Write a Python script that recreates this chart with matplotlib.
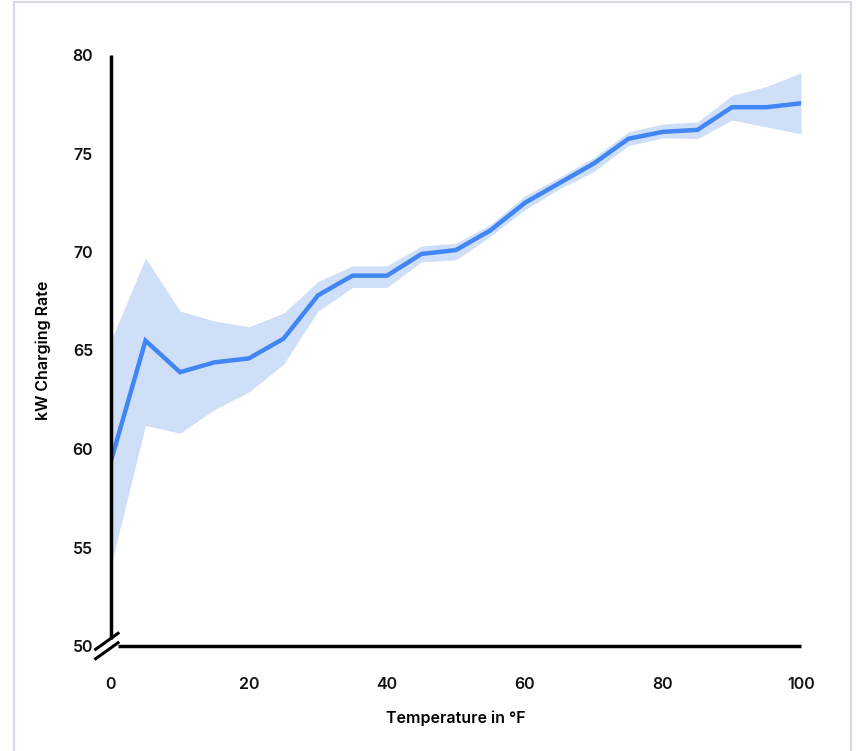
import matplotlib
matplotlib.use("Agg")
import matplotlib.pyplot as plt
from matplotlib.patches import Rectangle

plt.rcParams['font.family'] = ['Inter', 'DejaVu Sans']

# temperature (F) and charging rate (kW) with confidence band
temp = [0, 5, 10, 15, 20, 25, 30, 35, 40, 45, 50, 55, 60, 65, 70, 75, 80, 85, 90, 95, 100]
rate = [59.4, 65.5, 63.9, 64.4, 64.6, 65.6, 67.8, 68.8, 68.8, 69.9, 70.1, 71.1, 72.5, 73.5, 74.5,
        75.75, 76.1, 76.2, 77.35, 77.35, 77.55]
rate_hi = [65.5, 69.7, 67.0, 66.5, 66.2, 66.9, 68.5, 69.3, 69.3, 70.3, 70.45, 71.4, 72.85, 73.8, 74.8,
           76.1, 76.5, 76.6, 77.95, 78.4, 79.1]
rate_lo = [54.1, 61.2, 60.8, 62.0, 62.9, 64.3, 67.0, 68.2, 68.2, 69.5, 69.6, 70.8, 72.15, 73.2, 74.1,
           75.4, 75.8, 75.75, 76.7, 76.35, 76.0]

xticks = [0, 20, 40, 60, 80, 100]
yticks = [50, 55, 60, 65, 70, 75, 80]

fig = plt.figure(figsize=(8.56, 7.51), dpi=100)
ax = fig.add_axes([111/856, 1 - 646/751, 690/856, 591/751])

ax.fill_between(temp, rate_lo, rate_hi, color='#cfdff7', lw=0, zorder=1)
ax.plot(temp, rate, color='#4285f4', lw=3.2, solid_joinstyle='miter', zorder=2)

ax.set_xlim(0, 100)
ax.set_ylim(50, 80)
ax.set_xticks(xticks)
ax.set_yticks(yticks)
ax.tick_params(length=0, labelsize=11.5)
ax.tick_params(axis='x', pad=22)
ax.tick_params(axis='y', pad=13)
for lab in ax.get_xticklabels() + ax.get_yticklabels():
    lab.set_fontweight('semibold')
    lab.set_color('#111111')

for s in ['top', 'right']:
    ax.spines[s].set_visible(False)
for s in ['left', 'bottom']:
    ax.spines[s].set_linewidth(2.5)
    ax.spines[s].set_color('black')
    ax.spines[s].set_capstyle('butt')
ax.spines['left'].set_bounds(50.35, 80)
ax.spines['bottom'].set_bounds(1.0, 100)

# axis break marks at origin
for dy in (-0.006, 0.01):
    ax.plot([-0.024, 0.012], [dy - 0.017, dy + 0.013], transform=ax.transAxes,
            color='black', lw=2.2, clip_on=False, solid_capstyle='butt')

ax.set_xlabel('Temperature in °F', fontsize=11.5, fontweight='semibold', labelpad=14)
ax.set_ylabel('kW Charging Rate', fontsize=11.5, fontweight='semibold', labelpad=15)

# light frame around the card
fig.patches.append(Rectangle((14/856, -0.05), 837/856, 1.05 - 2.5/751, transform=fig.transFigure,
                             fill=False, edgecolor='#d6d9ea', lw=1.5))

fig.savefig('out.png', dpi=100)
